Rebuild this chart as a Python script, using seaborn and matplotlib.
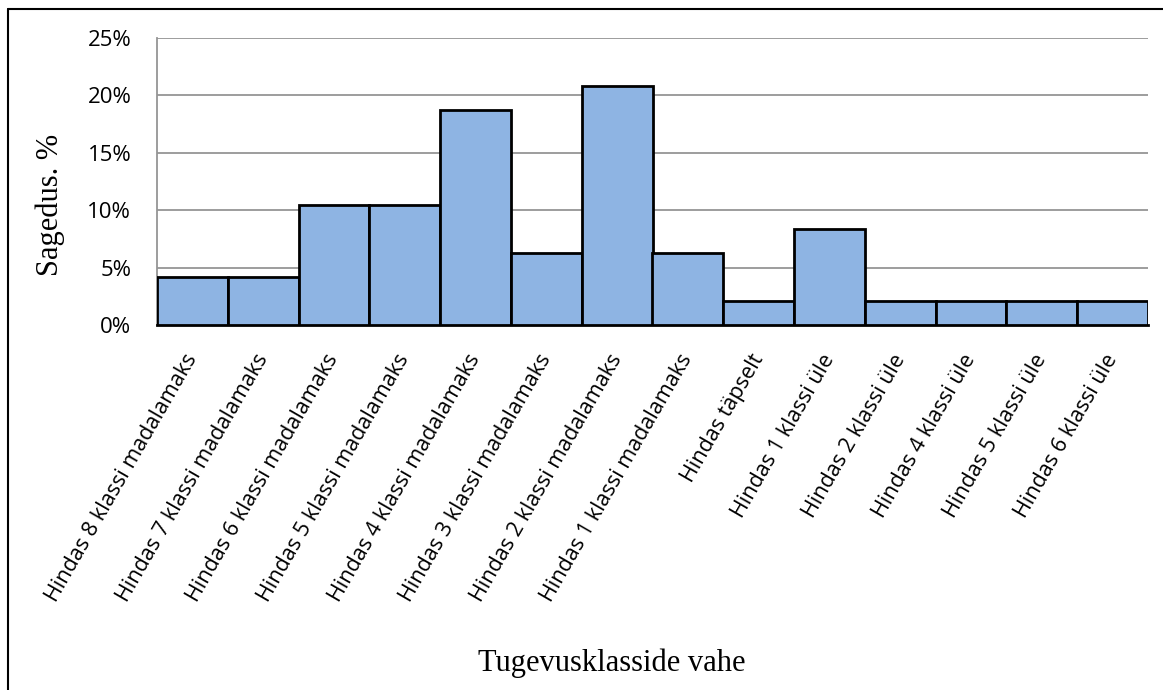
import numpy as np
import pandas as pd
import matplotlib
matplotlib.use("Agg")
import matplotlib.pyplot as plt
from matplotlib.lines import Line2D
from matplotlib.ticker import FuncFormatter, FixedLocator
import seaborn as sns

# data: share of answers per class difference (%)
categories = ['Hindas 8 klassi madalamaks', 'Hindas 7 klassi madalamaks',
			'Hindas 6 klassi madalamaks', 'Hindas 5 klassi madalamaks',
			'Hindas 4 klassi madalamaks', 'Hindas 3 klassi madalamaks',
			'Hindas 2 klassi madalamaks', 'Hindas 1 klassi madalamaks',
			'Hindas täpselt', 'Hindas 1 klassi üle', 'Hindas 2 klassi üle',
			'Hindas 4 klassi üle', 'Hindas 5 klassi üle', 'Hindas 6 klassi üle']
shares = [4.17, 4.17, 10.42, 10.42, 18.75, 6.25, 20.83, 6.25,
		2.08, 8.33, 2.08, 2.08, 2.08, 2.08]
y_ticks = [0, 5, 10, 15, 20, 25]

sns.set_style("white")
plt.rcParams['font.family'] = ['Open Sans', 'DejaVu Sans']
plt.rcParams['text.color'] = 'black'
plt.rcParams['xtick.labelcolor'] = 'black'
plt.rcParams['ytick.labelcolor'] = 'black'

df = pd.DataFrame({'klass': categories, 'osakaal': shares})

fig = plt.figure(figsize=(11.63, 6.9), dpi=100)
ax = fig.add_axes([157/1163, 1-325/690, (1148-157)/1163, (325-38)/690])

sns.barplot(data=df, x='klass', y='osakaal', ax=ax, color='#8EB4E3',
			saturation=1, width=1.0, edgecolor='black', linewidth=2, zorder=3)

ax.set_xlim(-0.5, len(categories)-0.5)
ax.set_ylim(0, 25)
ax.yaxis.set_major_locator(FixedLocator(y_ticks))
ax.yaxis.set_major_formatter(FuncFormatter(lambda v, p: '%d%%' % v))
ax.grid(axis='y', color='#959595', linewidth=1.3, zorder=0)
ax.set_axisbelow(True)

# x ticks sit between categories (bin edges), labels at centres
ax.set_xticks(np.arange(len(categories)))
ax.set_xticklabels(categories, rotation=60, ha='right', va='center',
				rotation_mode='anchor', fontsize=15.5, color='black')
ax.set_xticks(np.arange(-0.5, len(categories)), minor=True)
ax.tick_params(axis='x', which='major', length=0, pad=22)
ax.tick_params(axis='x', which='minor', length=6, width=2, color='black', direction='out')
ax.tick_params(axis='y', length=6.5, width=1.3, color='#959595', labelsize=16,
			labelcolor='black', pad=12)

for side in ['top', 'right']:
	ax.spines[side].set_visible(False)
ax.spines['left'].set_color('#959595')
ax.spines['left'].set_linewidth(1.3)
ax.spines['bottom'].set_color('black')
ax.spines['bottom'].set_linewidth(2)

ax.set_xlabel('')
ax.set_ylabel('')
fig.text(612/1163, 1-663/690, 'Tugevusklasside vahe', ha='center', va='center',
		family='Liberation Serif', fontsize=22, color='black')
fig.text(50/1163, 1-205/690, 'Sagedus. %', ha='center', va='center', rotation=90,
		family='Liberation Serif', fontsize=22, color='black')

# outer chart frame (left and top edges only visible)
fig.add_artist(Line2D([7.5/1163, 7.5/1163], [0, 1-9/690], color='black', linewidth=1.5))
fig.add_artist(Line2D([7.5/1163, 1], [1-9/690, 1-9/690], color='black', linewidth=1.5))

fig.savefig('out.png', dpi=100)
